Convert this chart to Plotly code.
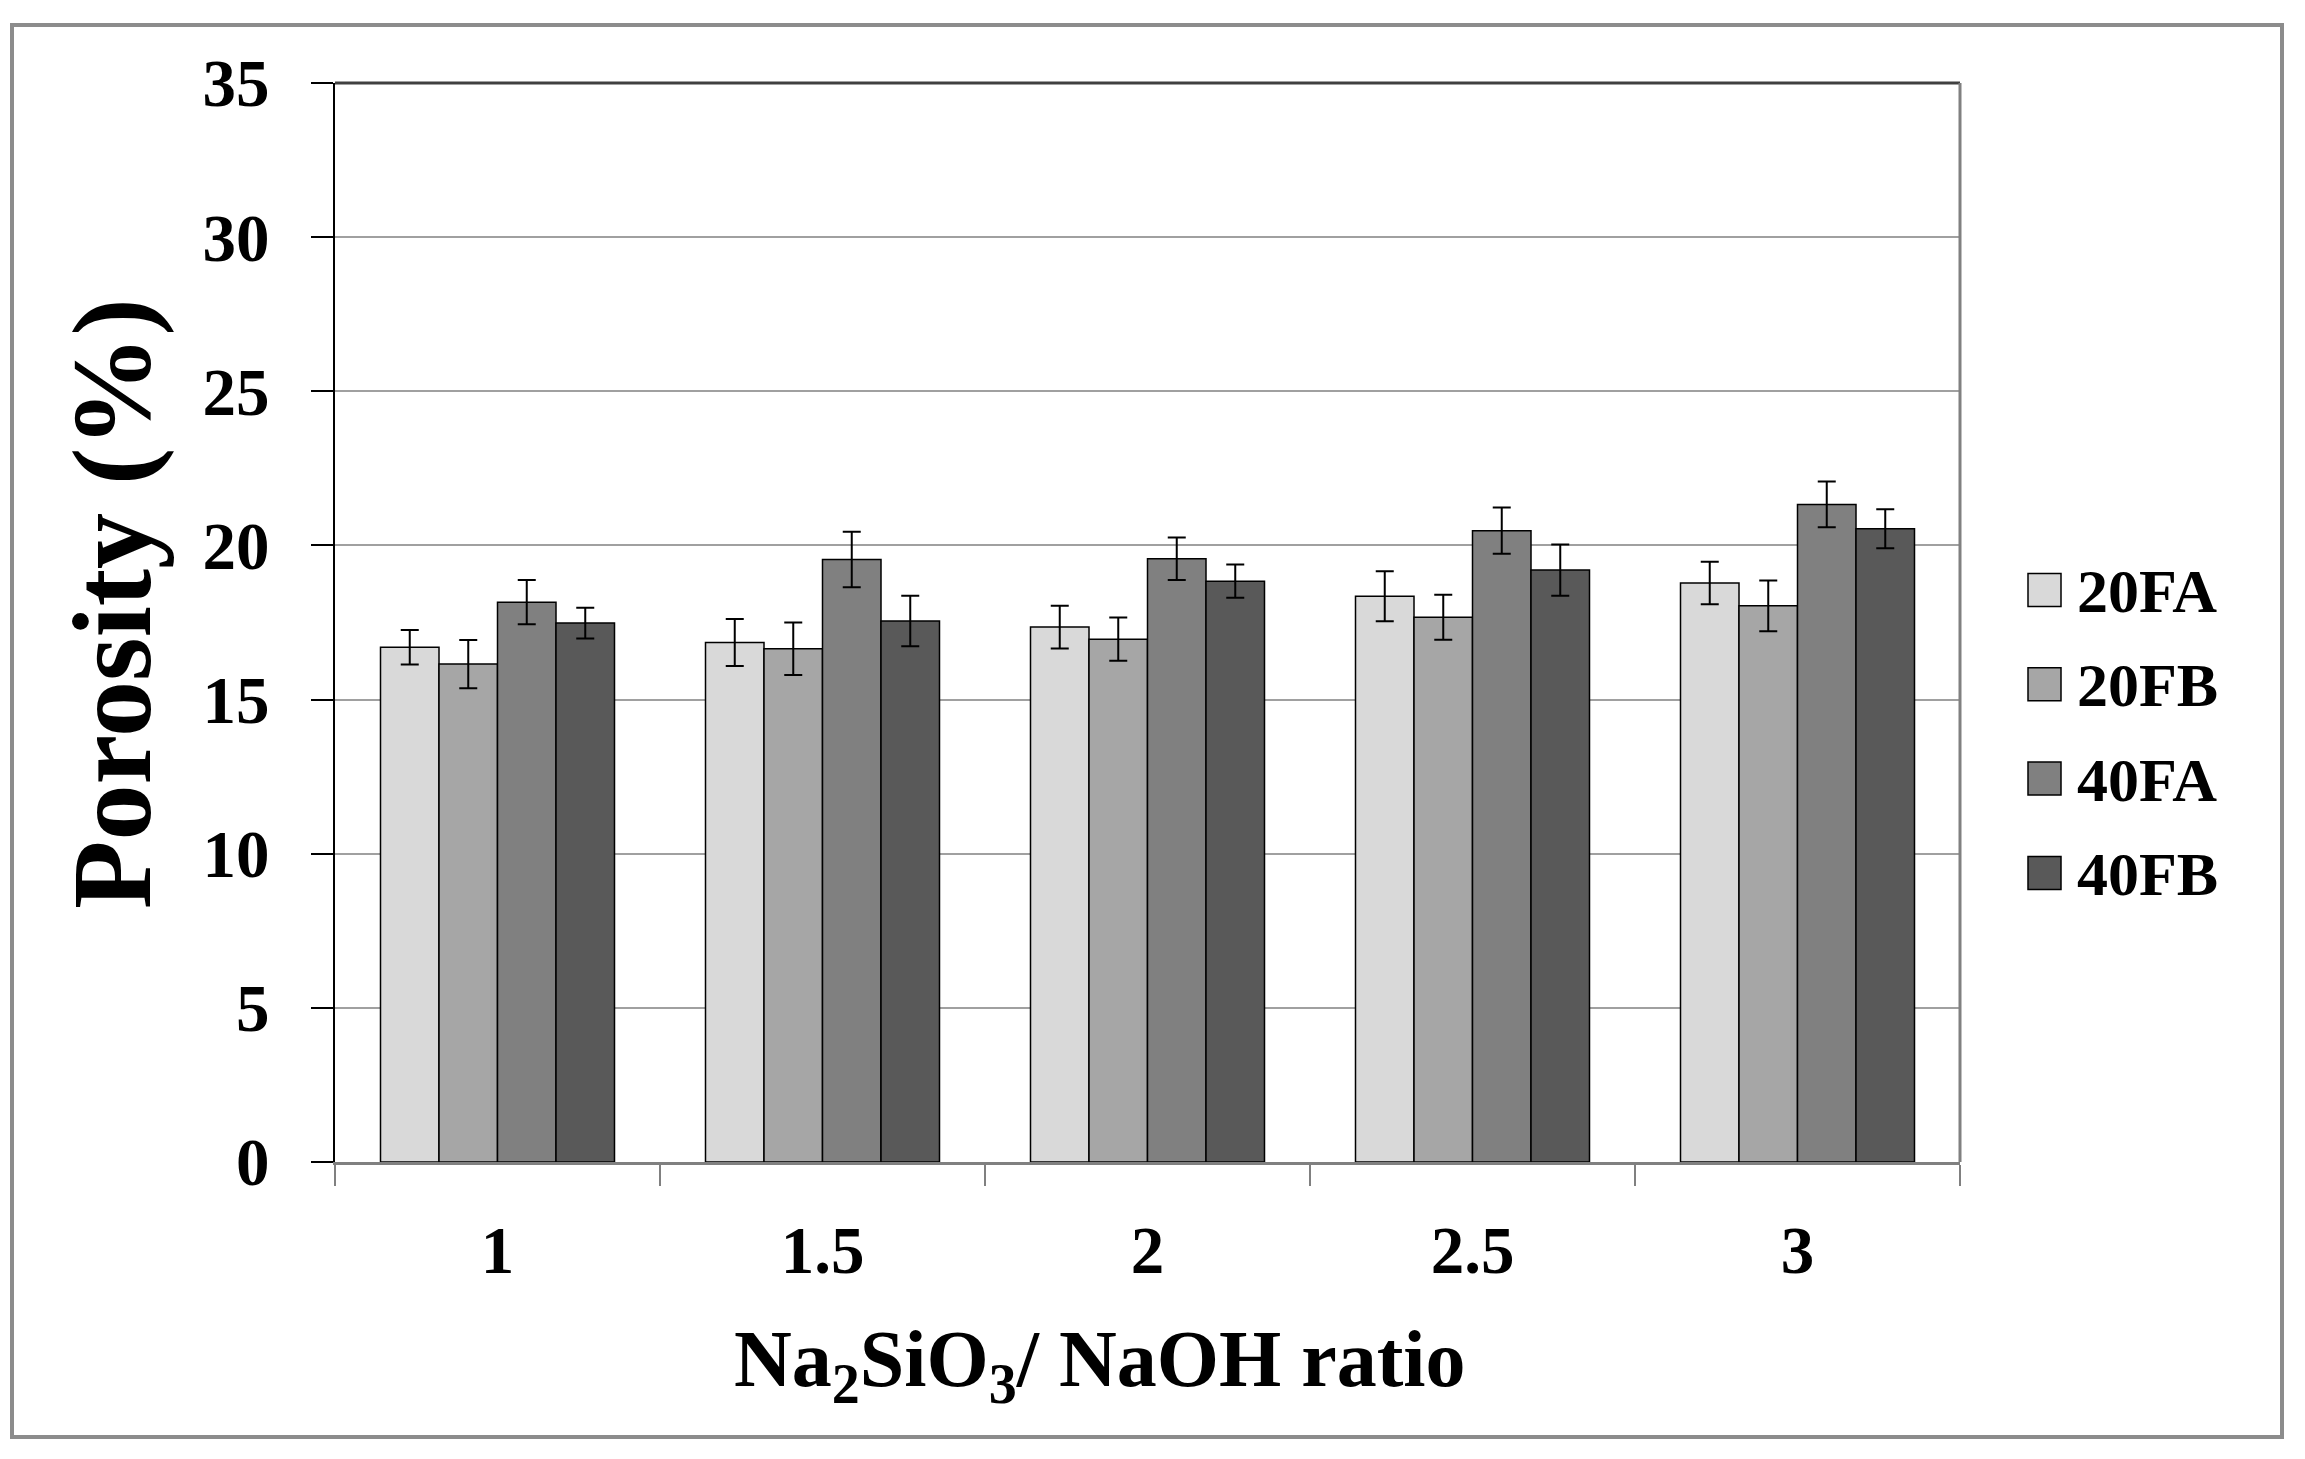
import plotly.graph_objects as go

categories = ["1", "1.5", "2", "2.5", "3"]
series_names = ["20FA", "20FB", "40FA", "40FB"]
v_20FA = [16.7, 16.85, 17.35, 18.35, 18.78]
v_20FB = [16.15, 16.65, 16.96, 17.67, 18.04]
v_40FA = [18.16, 19.54, 19.57, 20.48, 21.33]
v_40FB = [17.48, 17.55, 18.84, 19.2, 20.54]
e_20FA = [0.56, 0.76, 0.69, 0.81, 0.69]
e_20FB = [0.78, 0.85, 0.70, 0.73, 0.82]
e_40FA = [0.72, 0.90, 0.69, 0.75, 0.74]
e_40FB = [0.50, 0.82, 0.54, 0.83, 0.63]
y_ticks = [0, 5, 10, 15, 20, 25, 30, 35]

values = [v_20FA, v_20FB, v_40FA, v_40FB]
errors = [e_20FA, e_20FB, e_40FA, e_40FB]
colors = ["#d9d9d9", "#a6a6a6", "#808080", "#595959"]

# page body has an 8px default margin; work in window pixel coords
OFF = 8
W, H = 2305 - 2 * OFF, 1459 - 2 * OFF
L, R, T, B = 335, 1960, 83, 1162  # window coords of plot area
FONT = "Liberation Serif"

def px(x):
    return (x - L) / (R - L)

def py(y):
    return (B - y) / (B - T)

fig = go.Figure()
for name, v, e, c in zip(series_names, values, errors, colors):
    fig.add_trace(go.Bar(
        x=categories, y=v, name=name,
        marker=dict(color=c, line=dict(color="#000000", width=1.5)),
        error_y=dict(type="data", array=e, visible=True, color="#000000",
                     thickness=2, width=9),
        showlegend=False,
    ))

shapes = [
    dict(type="line", xref="paper", yref="paper", x0=0, x1=1, y0=1, y1=1,
         line=dict(color="#404040", width=3)),
    dict(type="line", xref="paper", yref="paper", x0=1, x1=1, y0=0, y1=1,
         line=dict(color="#808080", width=3)),
    dict(type="rect", xref="paper", yref="paper",
         x0=px(12), x1=px(2282), y0=py(1437), y1=py(25),
         line=dict(color="#8c8c8c", width=4)),
]
annotations = [
    dict(text="Porosity (%)", xref="paper", yref="paper",
         x=px(112), y=py(604), textangle=-90, showarrow=False,
         xanchor="center", yanchor="middle",
         font=dict(family=FONT, size=112, weight="bold", color="#000000")),
    dict(text="Na<sub>2</sub>SiO<sub>3</sub>/ NaOH ratio", xref="paper", yref="paper",
         x=px(1100), y=py(1365), showarrow=False,
         xanchor="center", yanchor="middle",
         font=dict(family=FONT, size=80, weight="bold", color="#000000")),
]

# legend (boxed swatches like the reference)
LEG_X0, LEG_SW, LEG_Y0, LEG_STEP = 2028, 33, 590, 94.3
for i, (name, c) in enumerate(zip(series_names, colors)):
    yc = LEG_Y0 + i * LEG_STEP
    shapes.append(dict(type="rect", xref="paper", yref="paper",
                       x0=px(LEG_X0), x1=px(LEG_X0 + LEG_SW),
                       y0=py(yc + LEG_SW / 2), y1=py(yc - LEG_SW / 2),
                       fillcolor=c, line=dict(color="#000000", width=1.5)))
    annotations.append(dict(text=name, xref="paper", yref="paper",
                            x=px(2075), y=py(yc + 1), showarrow=False,
                            xanchor="left", yanchor="middle",
                            font=dict(family=FONT, size=62, weight="bold",
                                      color="#000000")))

fig.update_layout(
    width=W, height=H,
    margin=dict(l=L - OFF, r=(W + OFF) - R, t=T - OFF, b=(H + OFF) - B),
    paper_bgcolor="white", plot_bgcolor="white",
    barmode="group", bargap=0.28, bargroupgap=0,
    font=dict(family=FONT, color="#000000", weight="bold"),
    showlegend=False,
    xaxis=dict(
        type="category", tickson="boundaries",
        ticks="outside", ticklen=21, tickwidth=2, tickcolor="#808080",
        showline=True, linecolor="#808080", linewidth=3,
        showgrid=False, ticklabelstandoff=28,
        tickfont=dict(family=FONT, size=67, weight="bold", color="#000000"),
    ),
    yaxis=dict(
        range=[0, 35], tickvals=y_ticks,
        ticks="outside", ticklen=22, tickwidth=2, tickcolor="#000000",
        showline=True, linecolor="#000000", linewidth=2,
        showgrid=True, gridcolor="#a0a0a0", gridwidth=2, zeroline=False,
        ticklabelstandoff=28,
        tickfont=dict(family=FONT, size=67, weight="bold", color="#000000"),
    ),
    shapes=shapes,
    annotations=annotations,
)

fig.write_html("out.html")
